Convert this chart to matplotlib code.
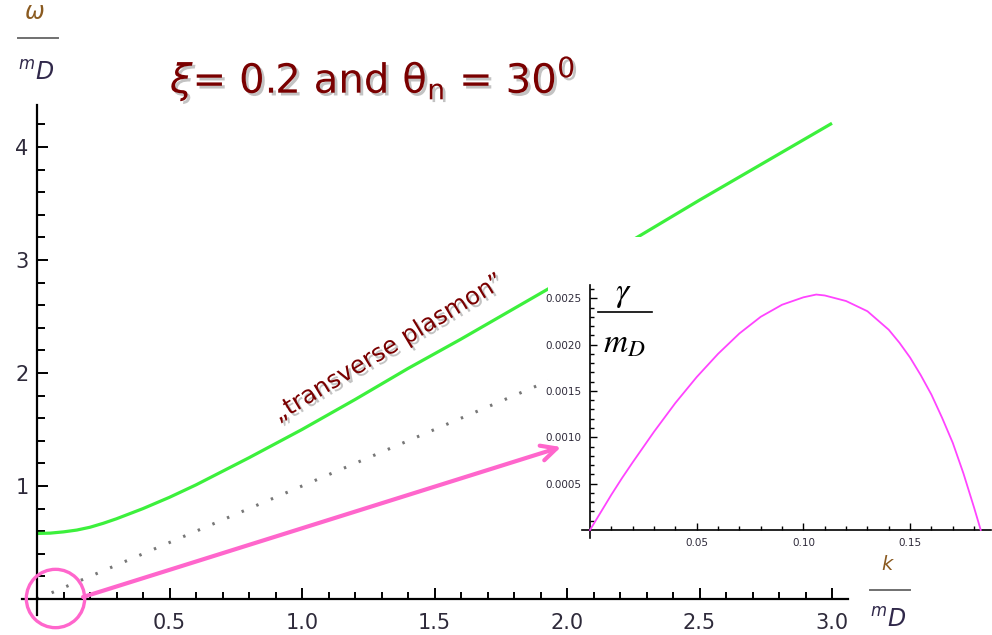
import matplotlib
matplotlib.use("Agg")
import matplotlib.pyplot as plt
from matplotlib import patheffects as pe
from matplotlib.patches import Rectangle
from matplotlib.lines import Line2D
from matplotlib.ticker import FixedLocator

# ---------------- data ----------------
k_main = [0.0, 0.05, 0.1, 0.15, 0.2, 0.25, 0.3, 0.35, 0.4, 0.45, 0.5, 0.6, 0.7, 0.8, 0.9, 1.0,
          1.2, 1.4, 1.6, 1.8, 2.0, 2.25, 2.5, 2.75, 3.0]
omega_transverse = [0.58, 0.583, 0.594, 0.61, 0.635, 0.67, 0.71, 0.755, 0.80, 0.85, 0.90, 1.01,
                    1.13, 1.25, 1.375, 1.50, 1.765, 2.04, 2.30, 2.57, 2.84, 3.18, 3.53, 3.87, 4.21]
k_light = [0.0, 3.0]
omega_light = [0.0, 3.0]

main_xticks = [0.5, 1.0, 1.5, 2.0, 2.5, 3.0]
main_xticklabels = ["0.5", "1.0", "1.5", "2.0", "2.5", "3.0"]
main_yticks = [1, 2, 3, 4]
main_yticklabels = ["1", "2", "3", "4"]

k_inset = [0.0, 0.005, 0.01, 0.015, 0.02, 0.03, 0.04, 0.05, 0.06, 0.07, 0.08, 0.09, 0.1,
           0.106, 0.11, 0.12, 0.13, 0.14, 0.145, 0.15, 0.155, 0.16, 0.165, 0.17, 0.175, 0.18, 0.1831]
gamma_inset = [0.0, 0.00019, 0.00038, 0.00056, 0.00073, 0.00106, 0.00137, 0.00165, 0.00190,
               0.00212, 0.00230, 0.00243, 0.00251, 0.00254, 0.00253, 0.00247, 0.00236, 0.00216,
               0.00202, 0.00186, 0.00167, 0.00146, 0.00121, 0.00094, 0.00061, 0.00024, 0.0]
inset_xticks = [0.05, 0.10, 0.15]
inset_xticklabels = ["0.05", "0.10", "0.15"]
inset_yticks = [0.0005, 0.0010, 0.0015, 0.0020, 0.0025]
inset_yticklabels = ["0.0005", "0.0010", "0.0015", "0.0020", "0.0025"]

title_text = "$\\xi$= 0.2 and θ$_{\\rm n}$ = 30$^{0}$"
curve_label = "\u201etransverse plasmon\u201d"

# ---------------- layout ----------------
W, H = 992, 635
fig = plt.figure(figsize=(W / 100, H / 100), dpi=100)
fig.patch.set_facecolor("white")


def fx(x):
    return x / W


def fy(y):
    return 1 - y / H


DARK_RED = "#7a0000"
GREEN = "#3cf03c"
PINK = "#ff66cc"
MAGENTA = "#ff44ff"
TICKCOL = "#2e2a3a"

# main axes: origin at pixel (37, 599), 265 px / unit in x, 113 px / unit in y
X0, SX, Y0, SY = 37, 265.0, 599, 113.0
ax = fig.add_axes([0, 0, 1, 1])
ax.set_xlim(-X0 / SX, (W - X0) / SX)
ax.set_ylim(-(H - Y0) / SY, Y0 / SY)
ax.patch.set_alpha(0)
for s in ["top", "right"]:
    ax.spines[s].set_visible(False)
ax.spines["left"].set_position(("data", 0))
ax.spines["bottom"].set_position(("data", 0))
ax.spines["left"].set_bounds(-0.14, 4.37)
ax.spines["bottom"].set_bounds(-0.055, 3.06)
for s in ["left", "bottom"]:
    ax.spines[s].set_linewidth(1.6)

ax.set_xticks(main_xticks, main_xticklabels)
ax.set_yticks(main_yticks, main_yticklabels)
ax.xaxis.set_minor_locator(FixedLocator([i / 10 for i in range(1, 31) if i % 5]))
ax.yaxis.set_minor_locator(FixedLocator([i / 5 for i in range(1, 22) if i % 5]))
ax.tick_params(which="both", direction="in", width=1.4, color="black")
ax.tick_params(axis="x", which="major", length=8, pad=10, labelsize=15, labelcolor=TICKCOL)
ax.tick_params(axis="x", which="minor", length=5)
ax.tick_params(axis="y", which="major", length=8, pad=6, labelsize=15, labelcolor=TICKCOL)
ax.tick_params(axis="y", which="minor", length=6)

# curves
ax.plot(k_main, omega_transverse, color=GREEN, lw=2.3, zorder=2, solid_capstyle="butt")
ax.plot(k_light, omega_light, color="#777777", lw=2.2, ls=(0, (0.8, 4.4)), zorder=2)

# white background of the inset region
ax.add_patch(Rectangle((fx(548), fy(556)), fx(992) - fx(548), fy(237) - fy(556),
                       transform=fig.transFigure, facecolor="white", edgecolor="none", zorder=3))

# circle around origin and arrow to inset
ax.plot([(54.5 - X0) / SX], [(Y0 - 598) / SY], marker="o", ms=42, mfc="none", mec=PINK,
        mew=2.4, zorder=5, clip_on=False)
ax.annotate("", xy=((561 - X0) / SX, (Y0 - 447) / SY), xytext=((83 - X0) / SX, (Y0 - 597) / SY),
            arrowprops=dict(arrowstyle="->,head_length=1.1,head_width=0.55", color=PINK, lw=3,
                            shrinkA=0, shrinkB=0),
            zorder=5)

# title and curve label with shadow
shadow = [pe.SimplePatchShadow(offset=(2, -2), shadow_rgbFace="#888888", alpha=0.5), pe.Normal()]
fig.text(fx(170), fy(93), title_text, fontsize=29, color=DARK_RED, ha="left", va="baseline",
         family="DejaVu Sans", path_effects=shadow)
ax.text((388 - X0) / SX, (Y0 - 348) / SY, curve_label, fontsize=17.5, color=DARK_RED,
        rotation=31, rotation_mode="anchor", ha="center", va="center",
        path_effects=shadow, zorder=4)

# main axis labels (fraction style)
LBL = "#30284a"
fig.text(fx(34), fy(12), r"$\omega$", fontsize=17, color="#8a5a20", ha="center", va="center")
fig.add_artist(Line2D([fx(18), fx(58)], [fy(38), fy(38)], color="#707070", lw=1.4))
fig.text(fx(36), fy(73), r"${}^{m}D$", fontsize=17, color=LBL, ha="center", va="center")

fig.text(fx(888), fy(564), r"$k$", fontsize=14, color="#8a5a20", ha="center", va="center")
fig.add_artist(Line2D([fx(870), fx(910)], [fy(590), fy(590)], color="#707070", lw=1.4))
fig.text(fx(888), fy(620), r"${}^{m}D$", fontsize=17, color=LBL, ha="center", va="center")

# ---------------- inset ----------------
IX0, ISX, IY0, ISY = 590, 2134.0, 530, 92700.0
il, ir, it, ib = 582, 991, 285, 538
ax2 = fig.add_axes([fx(il), fy(ib), (ir - il) / W, (ib - it) / H])
ax2.set_xlim((il - IX0) / ISX, (ir - IX0) / ISX)
ax2.set_ylim(-(ib - IY0) / ISY, (IY0 - it) / ISY)
ax2.set_facecolor("white")
for s in ["top", "right"]:
    ax2.spines[s].set_visible(False)
ax2.spines["left"].set_position(("data", 0))
ax2.spines["bottom"].set_position(("data", 0))
for s in ["left", "bottom"]:
    ax2.spines[s].set_linewidth(1.2)
ax2.plot(k_inset, gamma_inset, color=MAGENTA, lw=1.3, zorder=3)
ax2.set_xticks(inset_xticks, inset_xticklabels)
ax2.set_yticks(inset_yticks, inset_yticklabels)
ax2.xaxis.set_minor_locator(FixedLocator([i / 100 for i in range(1, 19) if i % 5]))
ax2.yaxis.set_minor_locator(FixedLocator([i / 10000 for i in range(1, 27) if i % 5]))
ax2.tick_params(which="both", direction="in", width=1.0, color="black")
ax2.tick_params(which="major", length=5, labelsize=7.5, labelcolor=TICKCOL, pad=6)
ax2.tick_params(which="minor", length=3)

fig.text(fx(623), fy(293), r"$\gamma$", fontsize=24, math_fontfamily="stix", color="black",
         ha="center", va="center")
fig.add_artist(Line2D([fx(598), fx(652)], [fy(312), fy(312)], color="black", lw=1.2))
fig.text(fx(624), fy(343), r"$m_D$", fontsize=24, math_fontfamily="stix", color="black",
         ha="center", va="center")

fig.savefig("out.png", dpi=100, facecolor="white")
